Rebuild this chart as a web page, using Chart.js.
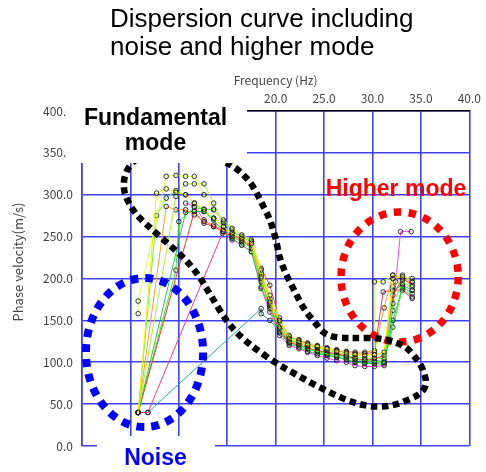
<!DOCTYPE html>
<html>
<head>
<meta charset="utf-8">
<script src="https://cdn.jsdelivr.net/npm/chart.js@4.4.0/dist/chart.umd.min.js"></script>
<style>
  html, body { margin: 0; padding: 0; background: #fff; }
</style>
</head>
<body>
<canvas id="chart" width="486" height="472"></canvas>
<script>
// frequency (Hz), phase velocity (m/s) pairs for each picked curve
const yellowCurve = [[5.8,40],[7.7,302],[8.7,307],[9.7,303],[10.7,300],[11.6,290],[12.6,283],[13.6,272],[14.6,262],[15.5,254],[16.5,248],[17.5,242],[18.5,202],[19.4,172],[20.4,150],[21.4,128],[22.4,124],[23.3,121],[24.3,119],[25.3,116],[26.3,113],[27.3,110],[28.2,109],[29.2,108],[30.2,109],[31.2,112],[32.1,200],[33.1,202],[34.1,200]];
const paleGreenCurve = [[5.8,158],[5.8,173],[8.7,322],[9.7,323],[10.7,322],[11.6,322],[12.6,300],[13.6,282],[14.6,270],[15.5,260],[16.5,252],[17.5,246],[18.5,210],[19.4,180],[20.4,153],[21.4,132],[22.4,127],[23.3,123],[24.3,120],[25.3,117],[26.3,115],[27.3,112],[28.2,110],[29.2,110],[30.2,109],[30.2,196],[31.1,196],[32.1,204],[33.1,204],[34.1,196]];
const yellowGreenCurve = [[5.8,40],[9.7,298],[10.7,313],[11.6,313],[12.6,313],[13.6,290],[14.6,266],[15.5,258],[16.5,250],[17.5,244],[18.5,206],[19.4,176],[20.4,148],[21.4,130],[22.4,125],[23.3,120],[24.3,117],[25.3,114],[26.3,112],[27.3,108],[28.2,106],[29.2,105],[30.2,105],[31.2,104],[32.1,190],[33.1,198],[34.1,186]];
const orangeCurve = [[5.8,40],[8.7,286],[9.7,282],[10.7,282],[11.6,276],[12.6,268],[13.6,264],[14.6,258],[15.5,252],[16.5,246],[17.5,240],[18.5,200],[19.4,170],[20.4,142],[21.4,124],[22.4,122],[23.3,119],[24.3,118],[25.3,116],[26.3,114],[27.3,113],[28.2,112],[29.2,112],[30.2,114],[31.2,165],[32.1,204],[33.1,200],[34.1,196]];
const limeCurve = [[5.8,40],[7.7,275],[8.7,296],[9.7,305],[10.7,300],[11.6,290],[12.6,280],[13.6,272],[14.6,262],[15.5,250],[16.5,244],[17.5,236],[18.5,196],[19.4,168],[20.4,140],[21.4,126],[22.4,121],[23.3,116],[24.3,113],[25.3,110],[26.3,108],[27.3,106],[28.2,103],[29.2,102],[30.2,101],[31.2,100],[32.1,170],[33.1,194],[34.1,190]];
const greenCurve = [[5.8,40],[10.7,279],[11.6,280],[12.6,280],[13.6,270],[14.6,256],[15.5,248],[16.5,240],[17.5,232],[18.5,190],[19.4,164],[20.4,135],[21.4,122],[22.4,118],[23.3,113],[24.3,110],[25.3,108],[26.3,106],[27.3,103],[28.2,100],[29.2,99],[30.2,98],[31.2,98],[32.1,150],[33.1,190],[34.1,182]];
const redCurve = [[5.8,40],[11.6,280],[12.6,266],[13.6,262],[14.6,256],[15.5,250],[16.5,244],[17.5,238],[18.5,198],[19.4,166],[20.4,138],[21.4,124],[22.4,120],[23.3,117],[24.3,114],[25.3,112],[26.3,110],[27.3,108],[28.2,104],[29.2,102],[30.2,104],[31.2,108],[32.1,180],[33.1,200],[34.1,192]];
const brightGreenCurve = [[5.8,40],[9.7,210],[10.0,268],[11.6,285],[12.6,282],[13.6,283],[14.6,268],[15.5,256],[16.5,250],[17.5,244],[18.5,204],[19.4,174],[20.4,145],[21.4,127],[22.4,123],[23.3,116],[24.3,112],[25.3,109],[26.3,106],[27.3,104],[28.2,100],[29.2,99],[30.2,99],[31.2,100],[32.1,142],[33.1,188],[34.1,178]];
const crimsonCurve = [[5.8,40],[6.8,40],[14.5,254],[15.5,252],[16.5,246],[17.5,240],[18.5,212],[19.4,192],[20.4,150],[21.4,130],[22.4,126],[23.3,122],[24.3,119],[25.3,117],[26.3,114],[27.3,112],[28.2,110],[29.2,110],[30.2,112],[31.1,184],[32.1,186],[33.1,186],[34.1,176]];
const tealCurve = [[6.8,40],[18.5,164],[18.5,158],[19.4,150],[20.4,136],[21.4,124],[22.4,120],[23.3,116],[24.3,113],[25.3,111],[26.3,109],[27.3,107],[28.2,104],[29.2,103],[30.2,102],[31.2,101],[32.1,162],[32.1,186],[33.1,192],[34.1,186]];
const magentaCurve = [[10.7,290],[11.6,286],[12.6,270],[13.6,262],[14.6,256],[15.5,246],[16.5,240],[17.5,232],[18.5,188],[19.4,160],[20.4,132],[21.4,120],[22.4,116],[23.3,112],[24.3,108],[25.3,105],[26.3,102],[27.3,100],[28.2,96],[29.2,95],[30.2,95],[31.2,96],[32.4,196],[32.9,256],[34.0,256]];

const curves = [yellowCurve, paleGreenCurve, yellowGreenCurve, orangeCurve, limeCurve, greenCurve,
                redCurve, brightGreenCurve, crimsonCurve, tealCurve, magentaCurve];
const curveColors = ['#eeee00', '#d8ff40', '#a8f030', '#ff9933', '#66ff22', '#22cc44',
                     '#ff3322', '#33e833', '#ff3377', '#30a888', '#ff44ff'];

// annotation outlines, in data units (Hz, m/s)
const noiseEllipse = { cx: 6.46, cy: 111.6, rx: 6.05, ry: 89 };
const higherEllipse = { cx: 32.8, cy: 201.8, rx: 6.05, ry: 77.6 };
const fundamentalLoop = [[5.64,344],[4.72,332],[4.31,318],[4.31,306],[4.62,295],[5.13,284],[5.85,273],[7.38,257],
  [9.13,239],[10.77,222],[12.1,203],[13.23,181],[14.97,148],[16.5,129],[18.05,115],[20.0,99],[21.85,87],[23.7,75],
  [25.74,63],[27.8,52.5],[29.85,46.6],[32.1,47.8],[34.15,57.3],[35.0,63],[35.6,73],[35.4,85],[35.0,97],[34.4,106],
  [33.6,117],[32.6,123],[31.6,126.6],[30.36,129],[28.3,129],[27.2,129],[25.95,130],[24.9,135],[24.1,147],[23.2,159],
  [22.56,171],[22.05,183],[21.5,195],[21.0,207],[20.6,218.5],[20.3,230],[20.1,243.6],[19.8,255.5],[19.5,267.5],
  [19.1,278],[18.56,290],[18.05,302],[17.44,314],[16.7,323.6],[15.9,332],[14.97,338],[13.64,346],[11.1,351],[8.0,350]];

const tickFont = { family: '"Noto Sans CJK JP", "DejaVu Sans", sans-serif', size: 12 };
const gridBlue = '#4040ff';

const overlay = {
  id: 'overlay',
  afterDraw(chart) {
    const ctx = chart.ctx;
    const xs = chart.scales.x, ys = chart.scales.y;
    const px = f => xs.getPixelForValue(f);
    const py = v => ys.getPixelForValue(v);
    ctx.save();

    function dottedEllipse(e, color, w, dash) {
      ctx.beginPath();
      ctx.ellipse(px(e.cx), py(e.cy), px(e.cx + e.rx) - px(e.cx), py(e.cy) - py(e.cy + e.ry), 0, 0, Math.PI * 2);
      ctx.strokeStyle = color;
      ctx.lineWidth = w;
      ctx.setLineDash(dash);
      ctx.lineCap = 'butt';
      ctx.stroke();
    }
    dottedEllipse(noiseEllipse, '#0000ff', 8, [8, 7]);
    dottedEllipse(higherEllipse, '#ff0000', 7.5, [7.5, 7.5]);

    // smooth closed loop through the outline points
    const pts = fundamentalLoop.map(p => [px(p[0]), py(p[1])]);
    const n = pts.length;
    const mid = (a, b) => [(a[0] + b[0]) / 2, (a[1] + b[1]) / 2];
    ctx.beginPath();
    const m0 = mid(pts[n - 1], pts[0]);
    ctx.moveTo(m0[0], m0[1]);
    for (let i = 0; i < n; i++) {
      const p = pts[i], m = mid(p, pts[(i + 1) % n]);
      ctx.quadraticCurveTo(p[0], p[1], m[0], m[1]);
    }
    ctx.closePath();
    ctx.strokeStyle = '#000';
    ctx.lineWidth = 6.5;
    ctx.setLineDash([6.5, 4.5]);
    ctx.stroke();
    ctx.setLineDash([]);

    // label boxes
    ctx.fillStyle = '#fff';
    ctx.fillRect(67, 88, 180, 75);
    ctx.fillRect(97, 436, 118, 36);

    ctx.textAlign = 'center';
    ctx.textBaseline = 'alphabetic';
    ctx.font = 'bold 23px "Liberation Sans", Arial, sans-serif';
    ctx.fillStyle = '#000';
    ctx.fillText('Fundamental', 155.5, 125);
    ctx.fillText('mode', 155.5, 150);
    ctx.fillStyle = '#ff0000';
    ctx.fillText('Higher mode', 396, 196);
    ctx.fillStyle = '#0000ff';
    ctx.fillText('Noise', 155.5, 465);

    // chart title
    ctx.textAlign = 'left';
    ctx.fillStyle = '#000';
    ctx.font = '26px "Liberation Sans", Arial, sans-serif';
    ctx.fillText('Dispersion curve including', 110, 27);
    ctx.fillText('noise and higher mode', 110, 55);

    // y axis title
    ctx.translate(18, 262);
    ctx.rotate(-Math.PI / 2);
    ctx.textAlign = 'center';
    ctx.textBaseline = 'middle';
    ctx.fillStyle = '#444';
    ctx.font = '13px "Noto Sans CJK JP", "DejaVu Sans", sans-serif';
    ctx.fillText('Phase velocity(m/s)', 0, 0);
    ctx.restore();
  }
};

new Chart(document.getElementById('chart'), {
  type: 'scatter',
  data: {
    datasets: curves.map((c, i) => ({
      data: c.map(p => ({ x: p[0], y: p[1] })),
      showLine: true,
      borderColor: curveColors[i],
      borderWidth: 1,
      pointRadius: 2.3,
      pointBorderWidth: 1,
      pointBorderColor: 'rgba(30,30,30,0.9)',
      pointBackgroundColor: 'rgba(255,255,255,0)'
    }))
  },
  options: {
    responsive: false,
    animation: false,
    layout: { padding: { top: 68, left: 0, right: 14, bottom: 26 } },
    plugins: { legend: { display: false }, tooltip: { enabled: false } },
    scales: {
      x: {
        type: 'linear',
        position: 'top',
        min: 0, max: 40,
        afterFit: s => { s.height = 43; },
        ticks: { stepSize: 5, padding: 5, color: '#444', font: tickFont, maxRotation: 0,
                 callback: v => v.toFixed(1) },
        grid: { color: gridBlue, lineWidth: 1.6, drawTicks: false },
        border: { color: '#000', width: 1.5 },
        title: { display: true, text: 'Frequency (Hz)', color: '#444', font: tickFont,
                 padding: { top: 5, bottom: 0 } }
      },
      y: {
        min: 0, max: 400,
        afterFit: s => { s.width = 82; },
        ticks: { stepSize: 50, padding: 9, color: '#444', font: tickFont,
                 callback: v => v.toFixed(1) },
        grid: { color: gridBlue, lineWidth: 1.6, drawTicks: false },
        border: { color: gridBlue, width: 1.6 }
      }
    }
  },
  plugins: [overlay]
});
</script>
</body>
</html>
